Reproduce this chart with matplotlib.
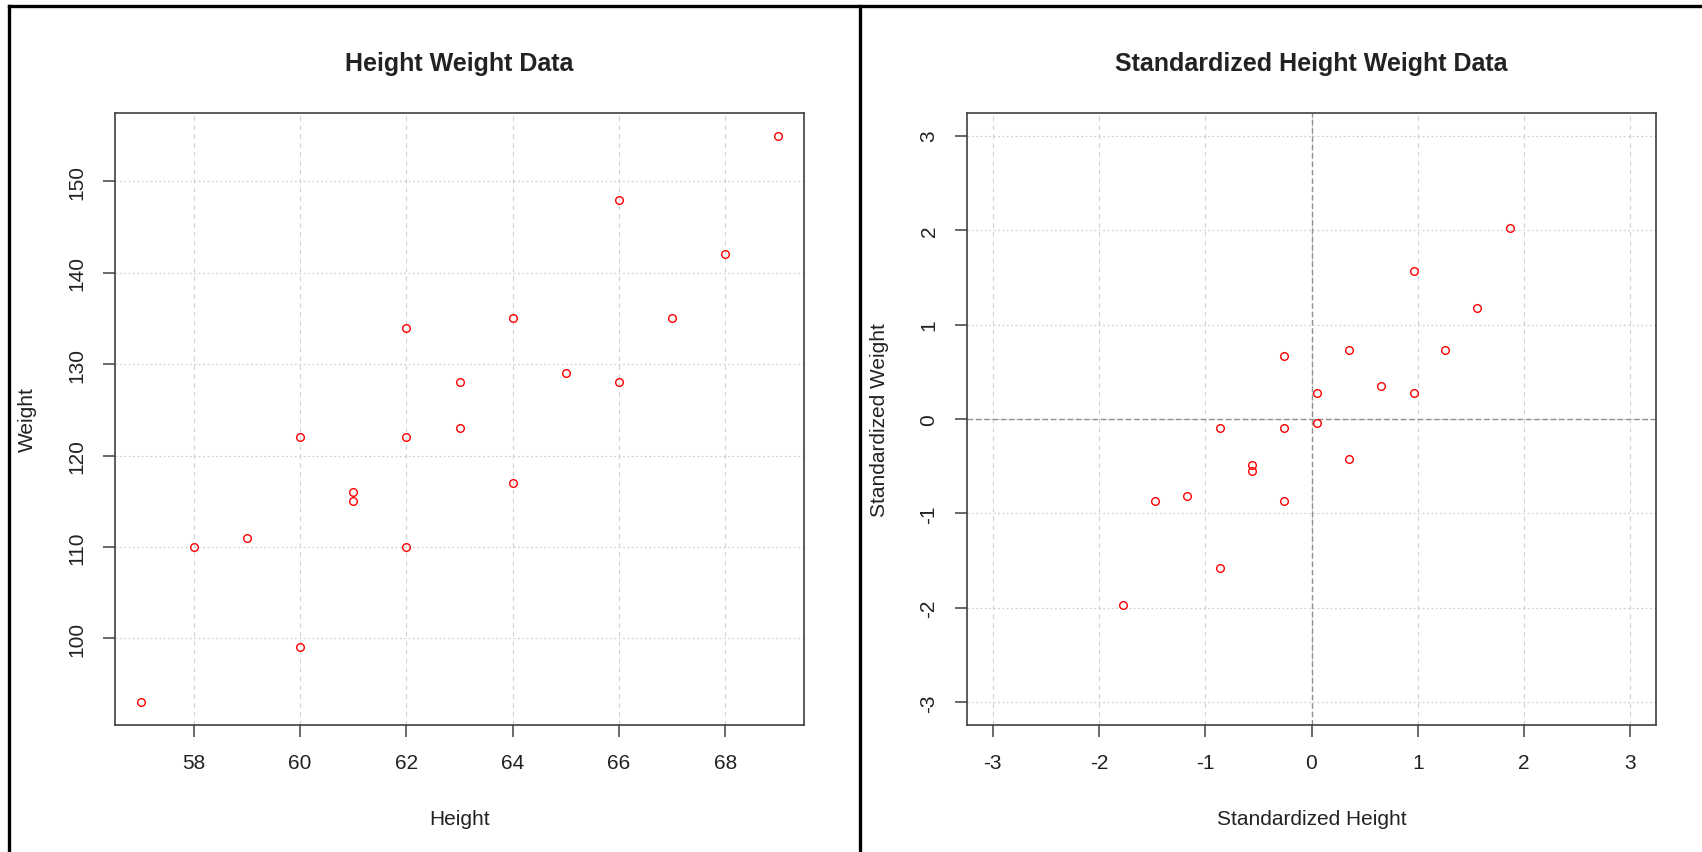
import matplotlib
matplotlib.use("Agg")
import matplotlib.pyplot as plt
from matplotlib.lines import Line2D

plt.rcParams["font.family"] = ["Liberation Sans", "DejaVu Sans"]
plt.rcParams["axes.unicode_minus"] = False

# raw data
height = [57, 58, 59, 60, 60, 61, 61, 62, 62, 62,
          63, 63, 64, 64, 65, 66, 66, 67, 68, 69]
weight = [93, 110, 111, 99, 122, 115, 116, 110, 122, 134,
          123, 128, 117, 135, 129, 128, 148, 135, 142, 155]

# standardized values as plotted in the right panel
z_height = [-1.77, -1.47, -1.17, -0.86, -0.86, -0.56, -0.56, -0.26, -0.26, -0.26,
            0.05, 0.05, 0.35, 0.35, 0.65, 0.96, 0.96, 1.26, 1.56, 1.87]
z_weight = [-1.97, -0.87, -0.81, -1.58, -0.10, -0.55, -0.49, -0.87, -0.10, 0.67,
            -0.04, 0.28, -0.42, 0.73, 0.35, 0.28, 1.57, 0.73, 1.18, 2.02]

left_xticks = [58, 60, 62, 64, 66, 68]
left_yticks = [100, 110, 120, 130, 140, 150]
std_ticks = [-3, -2, -1, 0, 1, 2, 3]

W, H = 1702, 853
fig = plt.figure(figsize=(W / 100, H / 100), dpi=100)
fig.patch.set_facecolor("white")

ax1 = fig.add_axes([115 / W, 1 - 726 / H, 689 / W, 612 / H])
ax2 = fig.add_axes([967 / W, 1 - 726 / H, 689 / W, 612 / H])


def style_axes(ax, xt, yt, title, xlab, ylab):
    ax.set_xticks(xt)
    ax.set_yticks(yt)
    for x in xt:
        ax.axvline(x, color="#d0d0d0", lw=0.8, ls=(0, (4, 4)), zorder=0)
    for y in yt:
        ax.axhline(y, color="#d0d0d0", lw=0.9, ls=(0, (1.5, 2)), zorder=0)
    for s in ax.spines.values():
        s.set_color("#404040")
        s.set_linewidth(1.2)
    ax.tick_params(length=8.5, width=1.1, color="#404040", pad=12,
                   labelsize=15, labelcolor="#222222")
    for lab in ax.get_yticklabels():
        lab.set_rotation(90)
        lab.set_va("center")
    ax.set_title(title, fontsize=18, fontweight="bold", color="#222222", pad=31)
    ax.set_xlabel(xlab, fontsize=15, color="#222222", labelpad=26)
    ax.set_ylabel(ylab, fontsize=15, color="#222222", labelpad=22)


ax1.plot(height, weight, ls="none", marker="o", ms=5.5, mfc="none",
         mec="red", mew=1.0, zorder=3)
ax1.set_xlim(56.52, 69.48)
ax1.set_ylim(90.52, 157.48)
style_axes(ax1, left_xticks, left_yticks, "Height Weight Data", "Height", "Weight")

ax2.axhline(0, color="#909090", lw=1.0, ls=(0, (4, 2)), zorder=1)
ax2.axvline(0, color="#909090", lw=1.0, ls=(0, (4, 2)), zorder=1)
ax2.plot(z_height, z_weight, ls="none", marker="o", ms=5.5, mfc="none",
         mec="red", mew=1.0, zorder=3)
ax2.set_xlim(-3.24, 3.24)
ax2.set_ylim(-3.24, 3.24)
style_axes(ax2, std_ticks, std_ticks, "Standardized Height Weight Data",
           "Standardized Height", "Standardized Weight")

# black frame lines around the panels
for (x0, y0, x1, y1) in [(8.5, 7.3, W, 7.3), (8.7, 7.3, 8.7, H), (860, 7.3, 860, H)]:
    fig.add_artist(Line2D([x0 / W, x1 / W], [1 - y0 / H, 1 - y1 / H],
                          transform=fig.transFigure, color="black", lw=2.4))

fig.savefig("out.png", dpi=100, facecolor="white")
